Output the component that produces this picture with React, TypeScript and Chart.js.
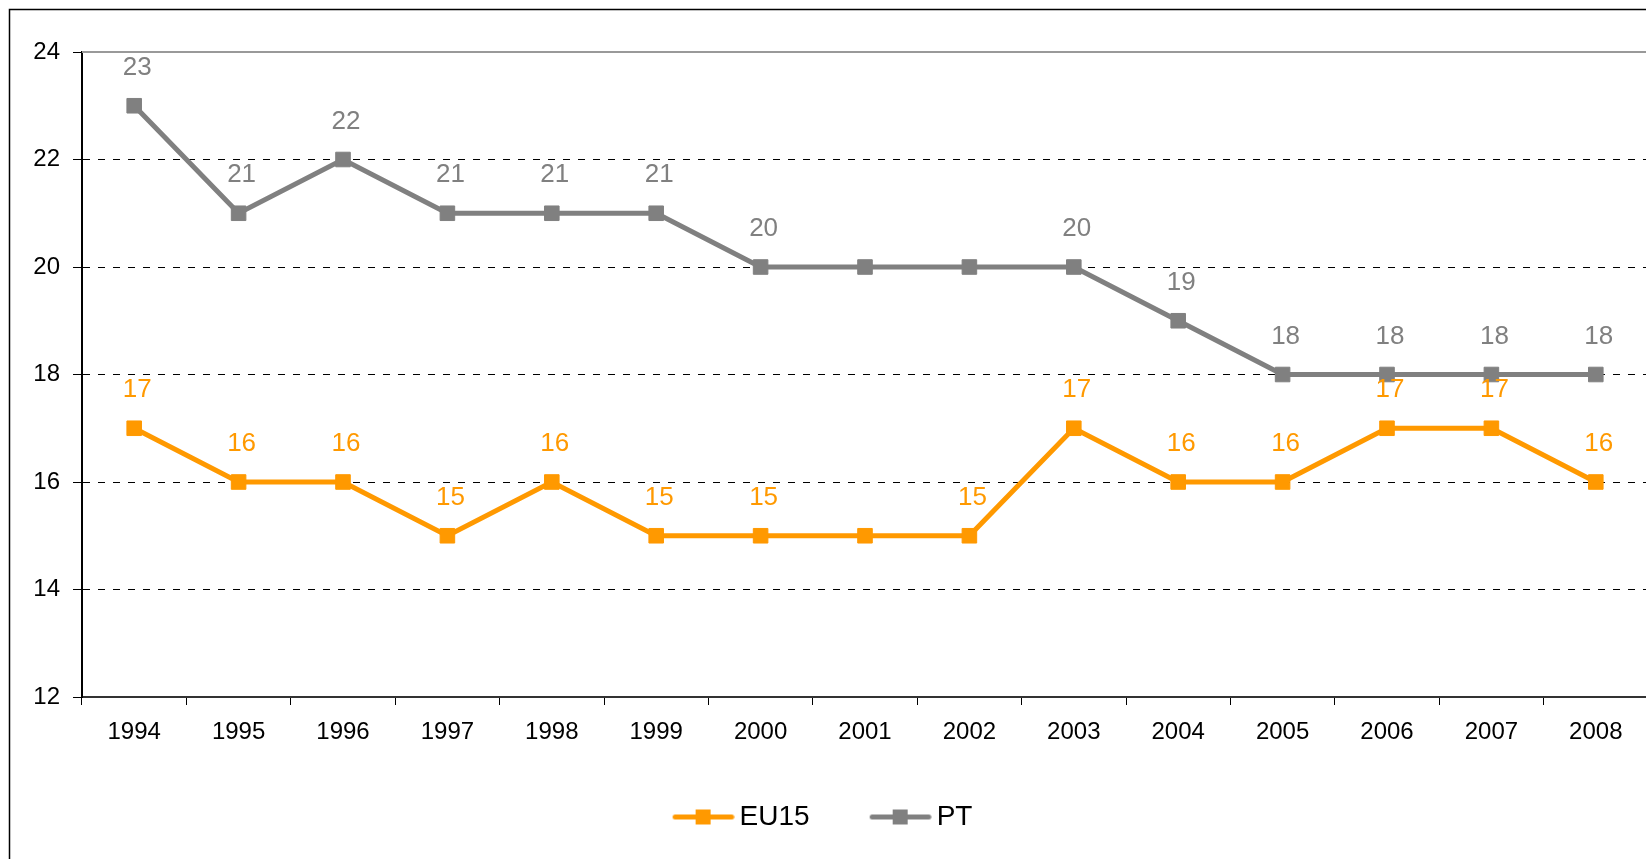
import React, { useEffect, useRef } from "react";
import { Chart, registerables } from "chart.js";

Chart.register(...registerables);

const years = ["1994", "1995", "1996", "1997", "1998", "1999", "2000", "2001", "2002", "2003", "2004", "2005", "2006", "2007", "2008"];
const eu15 = [17, 16, 16, 15, 16, 15, 15, 15, 15, 17, 16, 16, 17, 17, 16];
const pt = [23, 21, 22, 21, 21, 21, 20, 20, 20, 20, 19, 18, 18, 18, 18];
const eu15LabelShown = [true, true, true, true, true, true, true, false, true, true, true, true, true, true, true];
const ptLabelShown = [true, true, true, true, true, true, true, false, false, true, true, true, true, true, true];
const yMin = 12;
const yMax = 24;
const yStep = 2;

const ORANGE = "#FF9900";
const GRAY = "#808080";
const FONT = '"Liberation Sans", Arial, sans-serif';

function legendImage(color: string): HTMLCanvasElement {
  const c = document.createElement("canvas");
  c.width = 68;
  c.height = 21;
  const g = c.getContext("2d") as CanvasRenderingContext2D;
  g.strokeStyle = color;
  g.lineWidth = 5;
  g.lineCap = "round";
  g.beginPath();
  g.moveTo(8.5, 10.5);
  g.lineTo(65, 10.5);
  g.stroke();
  g.fillStyle = color;
  g.fillRect(29, 3, 15, 15);
  return c;
}

const framePlugin = {
  id: "frame",
  beforeDraw(chart: any) {
    const ctx = chart.ctx;
    ctx.save();
    ctx.fillStyle = "#fff";
    ctx.fillRect(0, 0, chart.width, chart.height);
    ctx.strokeStyle = "#000";
    ctx.lineWidth = 1.5;
    ctx.strokeRect(9.5, 9.5, 4000, 4000);
    ctx.restore();
  },
  beforeDatasetsDraw(chart: any) {
    const { ctx, chartArea } = chart;
    ctx.save();
    ctx.strokeStyle = "#999999";
    ctx.lineWidth = 2;
    ctx.beginPath();
    ctx.moveTo(chartArea.left, chartArea.top);
    ctx.lineTo(chartArea.right, chartArea.top);
    ctx.stroke();
    ctx.restore();
  },
};

const labelPlugin = {
  id: "pointLabels",
  afterDatasetsDraw(chart: any) {
    const ctx = chart.ctx;
    ctx.save();
    ctx.font = `26px ${FONT}`;
    ctx.textAlign = "center";
    ctx.textBaseline = "middle";
    chart.data.datasets.forEach((ds: any, di: number) => {
      const meta = chart.getDatasetMeta(di);
      meta.data.forEach((p: any, i: number) => {
        if (!ds.labelShown[i]) return;
        ctx.fillStyle = ds.borderColor;
        ctx.fillText(String(ds.data[i]), p.x + 3, p.y - 38);
      });
    });
    ctx.restore();
  },
};

export default function App() {
  const ref = useRef<HTMLCanvasElement | null>(null);

  useEffect(() => {
    if (!ref.current) return;
    const images = [legendImage(ORANGE), legendImage(GRAY)];
    const chart = new Chart(ref.current, {
      type: "line",
      data: {
        labels: years,
        datasets: [
          {
            label: "EU15",
            data: eu15,
            borderColor: ORANGE,
            backgroundColor: ORANGE,
            borderWidth: 5,
            pointStyle: "rect",
            pointRadius: 10.3,
            pointHoverRadius: 10.3,
            pointBorderWidth: 1,
            pointBackgroundColor: ORANGE,
            pointBorderColor: ORANGE,
            tension: 0,
            labelShown: eu15LabelShown,
          } as any,
          {
            label: "PT",
            data: pt,
            borderColor: GRAY,
            backgroundColor: GRAY,
            borderWidth: 5,
            pointStyle: "rect",
            pointRadius: 10.3,
            pointHoverRadius: 10.3,
            pointBorderWidth: 1,
            pointBackgroundColor: GRAY,
            pointBorderColor: GRAY,
            tension: 0,
            labelShown: ptLabelShown,
          } as any,
        ],
      },
      options: {
        responsive: false,
        animation: false,
        devicePixelRatio: 1,
        layout: { padding: { left: 0, right: 12, top: 52, bottom: 59 } },
        plugins: {
          tooltip: { enabled: false },
          legend: {
            position: "bottom",
            labels: {
              usePointStyle: true,
              pointStyleWidth: 50,
              padding: 63,
              color: "#000",
              font: { size: 28, family: FONT },
              generateLabels: (c: any) =>
                c.data.datasets.map((ds: any, i: number) => ({
                  text: ds.label,
                  pointStyle: images[i],
                  fillStyle: ds.borderColor,
                  strokeStyle: ds.borderColor,
                  lineWidth: 0,
                  hidden: false,
                  datasetIndex: i,
                })),
            },
          },
        },
        scales: {
          x: {
            type: "category",
            offset: true,
            grid: {
              offset: true,
              drawOnChartArea: false,
              drawTicks: true,
              tickLength: 8,
              color: "#000",
              lineWidth: 1,
            },
            border: { color: "#333", width: 2 },
            ticks: {
              font: { size: 24, family: FONT },
              color: "#000",
              padding: 13,
              maxRotation: 0,
              autoSkip: false,
            },
            afterFit: (s: any) => {
              s.height = 43;
            },
          },
          y: {
            min: yMin,
            max: yMax,
            ticks: {
              stepSize: yStep,
              font: { size: 24, family: FONT },
              color: "#000",
              padding: 13,
            },
            grid: {
              color: (c: any) =>
                c.tick && (c.tick.value === yMax || c.tick.value === yMin) ? "rgba(0,0,0,0)" : "#000",
              tickColor: "#000",
              tickLength: 9,
              lineWidth: 1,
              tickBorderDash: [],
            },
            border: { color: "#000", width: 2, dash: [7, 8] },
            afterFit: (s: any) => {
              s.width = 82;
            },
          },
        },
      } as any,
      plugins: [framePlugin, labelPlugin],
    });
    return () => chart.destroy();
  }, []);

  return (
    <div
      style={{
        position: "fixed",
        left: 0,
        top: 0,
        width: 1646,
        height: 859,
        overflow: "hidden",
        background: "#fff",
      }}
    >
      <canvas ref={ref} width={1660} height={900} style={{ display: "block", width: 1660, height: 900 }} />
    </div>
  );
}
